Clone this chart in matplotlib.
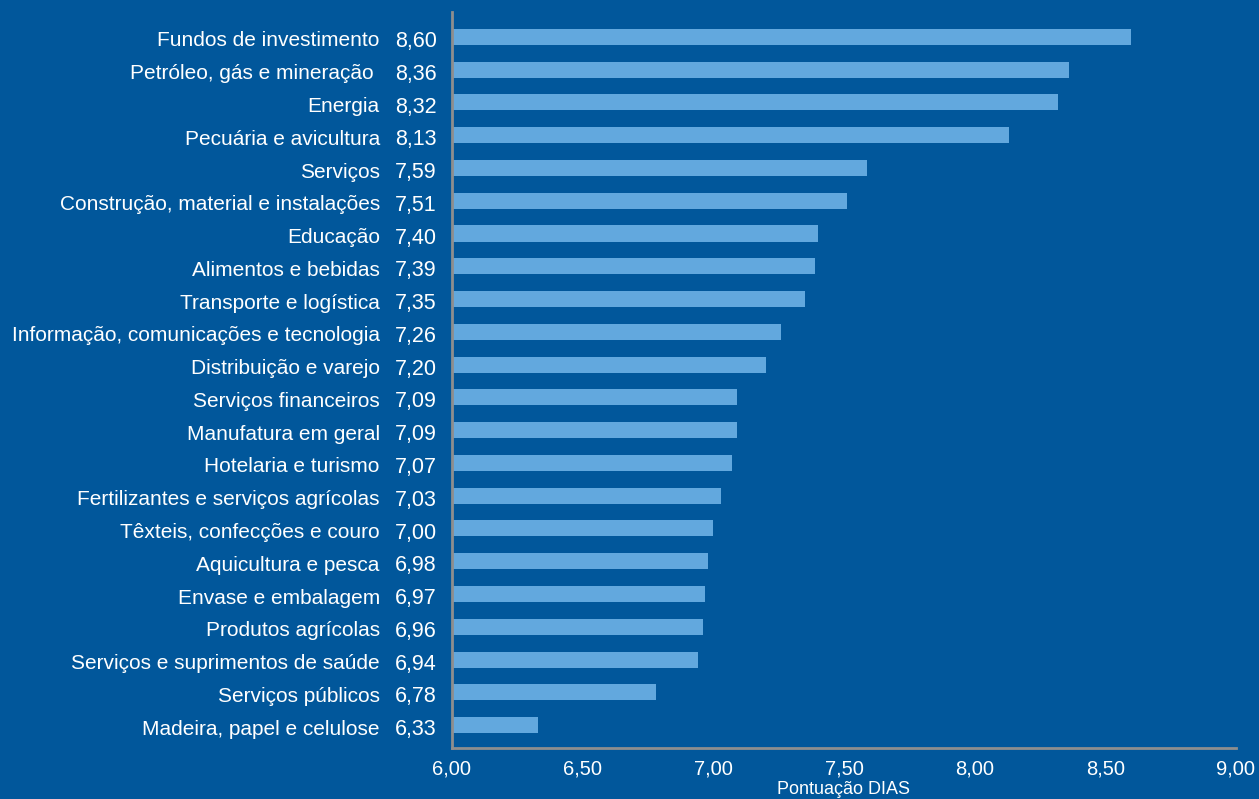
import matplotlib.pyplot as plt
import numpy as np

# setores e pontuação DIAS
setores = ['Fundos de investimento', 'Petróleo, gás e mineração ', 'Energia',
           'Pecuária e avicultura', 'Serviços', 'Construção, material e instalações',
           'Educação', 'Alimentos e bebidas', 'Transporte e logística',
           'Informação, comunicações e tecnologia', 'Distribuição e varejo',
           'Serviços financeiros', 'Manufatura em geral', 'Hotelaria e turismo',
           'Fertilizantes e serviços agrícolas', 'Têxteis, confecções e couro',
           'Aquicultura e pesca', 'Envase e embalagem', 'Produtos agrícolas',
           'Serviços e suprimentos de saúde', 'Serviços públicos',
           'Madeira, papel e celulose']
pontuacao = [8.60, 8.36, 8.32, 8.13, 7.59, 7.51, 7.40, 7.39, 7.35, 7.26, 7.20,
             7.09, 7.09, 7.07, 7.03, 7.00, 6.98, 6.97, 6.96, 6.94, 6.78, 6.33]
xticks = [6.0, 6.5, 7.0, 7.5, 8.0, 8.5, 9.0]

fundo = '#01579b'
barra = '#62a8de'
cinza = '#8e8e8e'

plt.rcParams['font.family'] = ['Liberation Sans', 'DejaVu Sans']

fig = plt.figure(figsize=(12.59, 7.99), dpi=100, facecolor=fundo)
ax = fig.add_axes([0.359, 0.0638, 0.6227, 0.9212])
ax.set_facecolor(fundo)

n = len(setores)
y = np.arange(n)[::-1]
ax.barh(y, np.array(pontuacao) - 6, left=6, height=0.49, color=barra)

ax.set_xlim(6, 9)
ax.set_ylim(-0.7, n - 0.24)
ax.set_yticks([])

# nome do setor e valor, alinhados à direita antes do eixo
for yi, nome, v in zip(y, setores, pontuacao):
    ax.annotate(nome, xy=(0, yi), xycoords=('axes fraction', 'data'),
                xytext=(-52, -1.5), textcoords='offset points',
                ha='right', va='center_baseline', color='white', fontsize=15)
    ax.annotate(f'{v:.2f}'.replace('.', ','), xy=(0, yi),
                xycoords=('axes fraction', 'data'),
                xytext=(-11, -1.5), textcoords='offset points',
                ha='right', va='center_baseline', color='white', fontsize=15.5)

ax.set_xticks(xticks)
ax.set_xticklabels([f'{v:.2f}'.replace('.', ',') for v in xticks],
                   color='white', fontsize=14.5)
ax.tick_params(axis='both', length=0)
ax.tick_params(axis='x', pad=8)
ax.set_xlabel('Pontuação DIAS', color='white', fontsize=13, labelpad=2)

for lado in ['top', 'right']:
    ax.spines[lado].set_visible(False)
for lado in ['left', 'bottom']:
    ax.spines[lado].set_color(cinza)
    ax.spines[lado].set_linewidth(2)

fig.savefig('out.png', dpi=100, facecolor=fundo)
